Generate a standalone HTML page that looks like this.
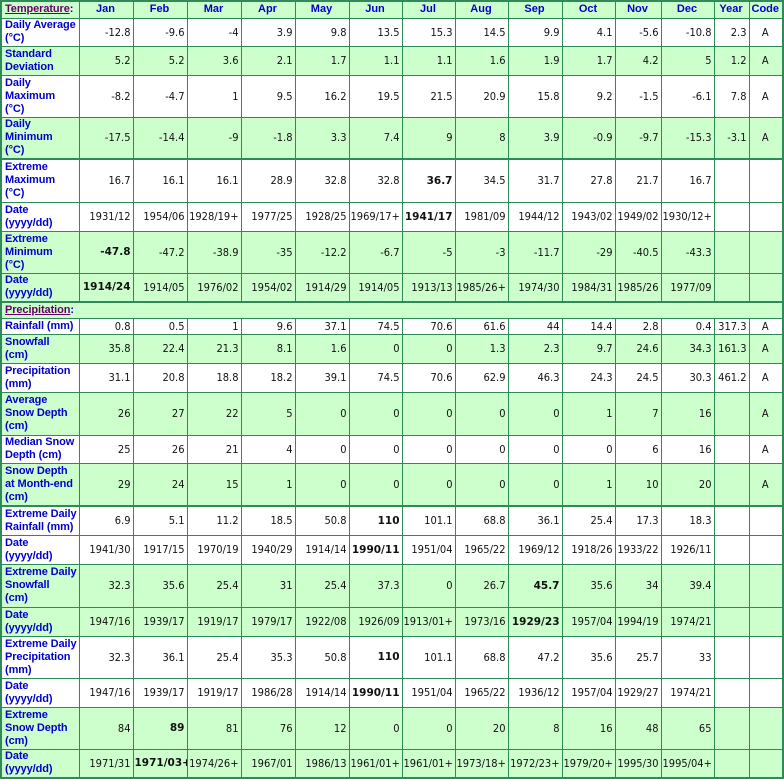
<!DOCTYPE html>
<html><head><meta charset="utf-8">
<style>
html,body{margin:0;padding:0;background:#fff;width:784px;height:779px;overflow:hidden}
table{border-collapse:collapse;table-layout:fixed;width:782px;border:2px solid #2e8b57;font-family:"DejaVu Sans Condensed","DejaVu Sans","Liberation Sans",sans-serif;font-size:11px;color:#111}
td,th{border:1px solid #2e8b57;padding:0 2px 0 1px;overflow:hidden;white-space:nowrap;line-height:13px}
td{text-align:right}
td.l,th.l{text-align:left;color:#0000cc;font-weight:bold;white-space:nowrap;padding:0 0 0 3px;font-family:"Liberation Sans",Arial,sans-serif;font-size:11px;letter-spacing:-0.1px}
th{color:#0000cc;font-weight:bold;text-align:center;font-family:"Liberation Sans",Arial,sans-serif}
tr.g td,tr.g th{background:#ccffcc}
tr.w td{background:#fff}
tr.t td,tr.t th{border-top:2px solid #2e8b57}
td.c{text-align:center}
b{font-family:"DejaVu Sans",sans-serif;font-weight:bold;font-size:10.5px}
.h{color:#660066;text-decoration:underline}
</style></head><body>
<table>
<colgroup><col style="width:78px"><col style="width:54px"><col style="width:54px"><col style="width:54px"><col style="width:54px"><col style="width:54px"><col style="width:53px"><col style="width:53px"><col style="width:53px"><col style="width:54px"><col style="width:53px"><col style="width:46px"><col style="width:53px"><col style="width:35px"><col style="width:34px"></colgroup>
<tr class="g" style="height:17px"><th class="l"><span class="h">Temperature</span>:</th><th>Jan</th><th>Feb</th><th>Mar</th><th>Apr</th><th>May</th><th>Jun</th><th>Jul</th><th>Aug</th><th>Sep</th><th>Oct</th><th>Nov</th><th>Dec</th><th>Year</th><th>Code</th></tr>
<tr class="w" style="height:28px"><td class="l">Daily Average<br>(°C)</td><td>-12.8</td><td>-9.6</td><td>-4</td><td>3.9</td><td>9.8</td><td>13.5</td><td>15.3</td><td>14.5</td><td>9.9</td><td>4.1</td><td>-5.6</td><td>-10.8</td><td>2.3</td><td class="c">A</td></tr>
<tr class="g" style="height:29px"><td class="l">Standard<br>Deviation</td><td>5.2</td><td>5.2</td><td>3.6</td><td>2.1</td><td>1.7</td><td>1.1</td><td>1.1</td><td>1.6</td><td>1.9</td><td>1.7</td><td>4.2</td><td>5</td><td>1.2</td><td class="c">A</td></tr>
<tr class="w" style="height:42px"><td class="l">Daily<br>Maximum<br>(°C)</td><td>-8.2</td><td>-4.7</td><td>1</td><td>9.5</td><td>16.2</td><td>19.5</td><td>21.5</td><td>20.9</td><td>15.8</td><td>9.2</td><td>-1.5</td><td>-6.1</td><td>7.8</td><td class="c">A</td></tr>
<tr class="g" style="height:42px"><td class="l">Daily<br>Minimum<br>(°C)</td><td>-17.5</td><td>-14.4</td><td>-9</td><td>-1.8</td><td>3.3</td><td>7.4</td><td>9</td><td>8</td><td>3.9</td><td>-0.9</td><td>-9.7</td><td>-15.3</td><td>-3.1</td><td class="c">A</td></tr>
<tr class="w t" style="height:43px"><td class="l">Extreme<br>Maximum<br>(°C)</td><td>16.7</td><td>16.1</td><td>16.1</td><td>28.9</td><td>32.8</td><td>32.8</td><td><b>36.7</b></td><td>34.5</td><td>31.7</td><td>27.8</td><td>21.7</td><td>16.7</td><td></td><td></td></tr>
<tr class="w" style="height:29px"><td class="l">Date<br>(yyyy/dd)</td><td>1931/12</td><td>1954/06</td><td>1928/19+</td><td>1977/25</td><td>1928/25</td><td>1969/17+</td><td><b>1941/17</b></td><td>1981/09</td><td>1944/12</td><td>1943/02</td><td>1949/02</td><td>1930/12+</td><td></td><td></td></tr>
<tr class="g" style="height:42px"><td class="l">Extreme<br>Minimum<br>(°C)</td><td><b>-47.8</b></td><td>-47.2</td><td>-38.9</td><td>-35</td><td>-12.2</td><td>-6.7</td><td>-5</td><td>-3</td><td>-11.7</td><td>-29</td><td>-40.5</td><td>-43.3</td><td></td><td></td></tr>
<tr class="g" style="height:29px"><td class="l">Date<br>(yyyy/dd)</td><td><b>1914/24</b></td><td>1914/05</td><td>1976/02</td><td>1954/02</td><td>1914/29</td><td>1914/05</td><td>1913/13</td><td>1985/26+</td><td>1974/30</td><td>1984/31</td><td>1985/26</td><td>1977/09</td><td></td><td></td></tr>
<tr class="g t" style="height:16px"><td class="l" colspan="15"><span class="h">Precipitation</span>:</td></tr>
<tr class="w" style="height:16px"><td class="l">Rainfall (mm)</td><td>0.8</td><td>0.5</td><td>1</td><td>9.6</td><td>37.1</td><td>74.5</td><td>70.6</td><td>61.6</td><td>44</td><td>14.4</td><td>2.8</td><td>0.4</td><td>317.3</td><td class="c">A</td></tr>
<tr class="g" style="height:29px"><td class="l">Snowfall<br>(cm)</td><td>35.8</td><td>22.4</td><td>21.3</td><td>8.1</td><td>1.6</td><td>0</td><td>0</td><td>1.3</td><td>2.3</td><td>9.7</td><td>24.6</td><td>34.3</td><td>161.3</td><td class="c">A</td></tr>
<tr class="w" style="height:29px"><td class="l">Precipitation<br>(mm)</td><td>31.1</td><td>20.8</td><td>18.8</td><td>18.2</td><td>39.1</td><td>74.5</td><td>70.6</td><td>62.9</td><td>46.3</td><td>24.3</td><td>24.5</td><td>30.3</td><td>461.2</td><td class="c">A</td></tr>
<tr class="g" style="height:43px"><td class="l">Average<br>Snow Depth<br>(cm)</td><td>26</td><td>27</td><td>22</td><td>5</td><td>0</td><td>0</td><td>0</td><td>0</td><td>0</td><td>1</td><td>7</td><td>16</td><td></td><td class="c">A</td></tr>
<tr class="w" style="height:28px"><td class="l">Median Snow<br>Depth (cm)</td><td>25</td><td>26</td><td>21</td><td>4</td><td>0</td><td>0</td><td>0</td><td>0</td><td>0</td><td>0</td><td>6</td><td>16</td><td></td><td class="c">A</td></tr>
<tr class="g" style="height:43px"><td class="l">Snow Depth<br>at Month-end<br>(cm)</td><td>29</td><td>24</td><td>15</td><td>1</td><td>0</td><td>0</td><td>0</td><td>0</td><td>0</td><td>1</td><td>10</td><td>20</td><td></td><td class="c">A</td></tr>
<tr class="w t" style="height:29px"><td class="l">Extreme Daily<br>Rainfall (mm)</td><td>6.9</td><td>5.1</td><td>11.2</td><td>18.5</td><td>50.8</td><td><b>110</b></td><td>101.1</td><td>68.8</td><td>36.1</td><td>25.4</td><td>17.3</td><td>18.3</td><td></td><td></td></tr>
<tr class="w" style="height:29px"><td class="l">Date<br>(yyyy/dd)</td><td>1941/30</td><td>1917/15</td><td>1970/19</td><td>1940/29</td><td>1914/14</td><td><b>1990/11</b></td><td>1951/04</td><td>1965/22</td><td>1969/12</td><td>1918/26</td><td>1933/22</td><td>1926/11</td><td></td><td></td></tr>
<tr class="g" style="height:43px"><td class="l">Extreme Daily<br>Snowfall<br>(cm)</td><td>32.3</td><td>35.6</td><td>25.4</td><td>31</td><td>25.4</td><td>37.3</td><td>0</td><td>26.7</td><td><b>45.7</b></td><td>35.6</td><td>34</td><td>39.4</td><td></td><td></td></tr>
<tr class="g" style="height:29px"><td class="l">Date<br>(yyyy/dd)</td><td>1947/16</td><td>1939/17</td><td>1919/17</td><td>1979/17</td><td>1922/08</td><td>1926/09</td><td>1913/01+</td><td>1973/16</td><td><b>1929/23</b></td><td>1957/04</td><td>1994/19</td><td>1974/21</td><td></td><td></td></tr>
<tr class="w" style="height:42px"><td class="l">Extreme Daily<br>Precipitation<br>(mm)</td><td>32.3</td><td>36.1</td><td>25.4</td><td>35.3</td><td>50.8</td><td><b>110</b></td><td>101.1</td><td>68.8</td><td>47.2</td><td>35.6</td><td>25.7</td><td>33</td><td></td><td></td></tr>
<tr class="w" style="height:29px"><td class="l">Date<br>(yyyy/dd)</td><td>1947/16</td><td>1939/17</td><td>1919/17</td><td>1986/28</td><td>1914/14</td><td><b>1990/11</b></td><td>1951/04</td><td>1965/22</td><td>1936/12</td><td>1957/04</td><td>1929/27</td><td>1974/21</td><td></td><td></td></tr>
<tr class="g" style="height:42px"><td class="l">Extreme<br>Snow Depth<br>(cm)</td><td>84</td><td><b>89</b></td><td>81</td><td>76</td><td>12</td><td>0</td><td>0</td><td>20</td><td>8</td><td>16</td><td>48</td><td>65</td><td></td><td></td></tr>
<tr class="g" style="height:29px"><td class="l">Date<br>(yyyy/dd)</td><td>1971/31</td><td><b>1971/03+</b></td><td>1974/26+</td><td>1967/01</td><td>1986/13</td><td>1961/01+</td><td>1961/01+</td><td>1973/18+</td><td>1972/23+</td><td>1979/20+</td><td>1995/30</td><td>1995/04+</td><td></td><td></td></tr>
</table>
</body></html>
